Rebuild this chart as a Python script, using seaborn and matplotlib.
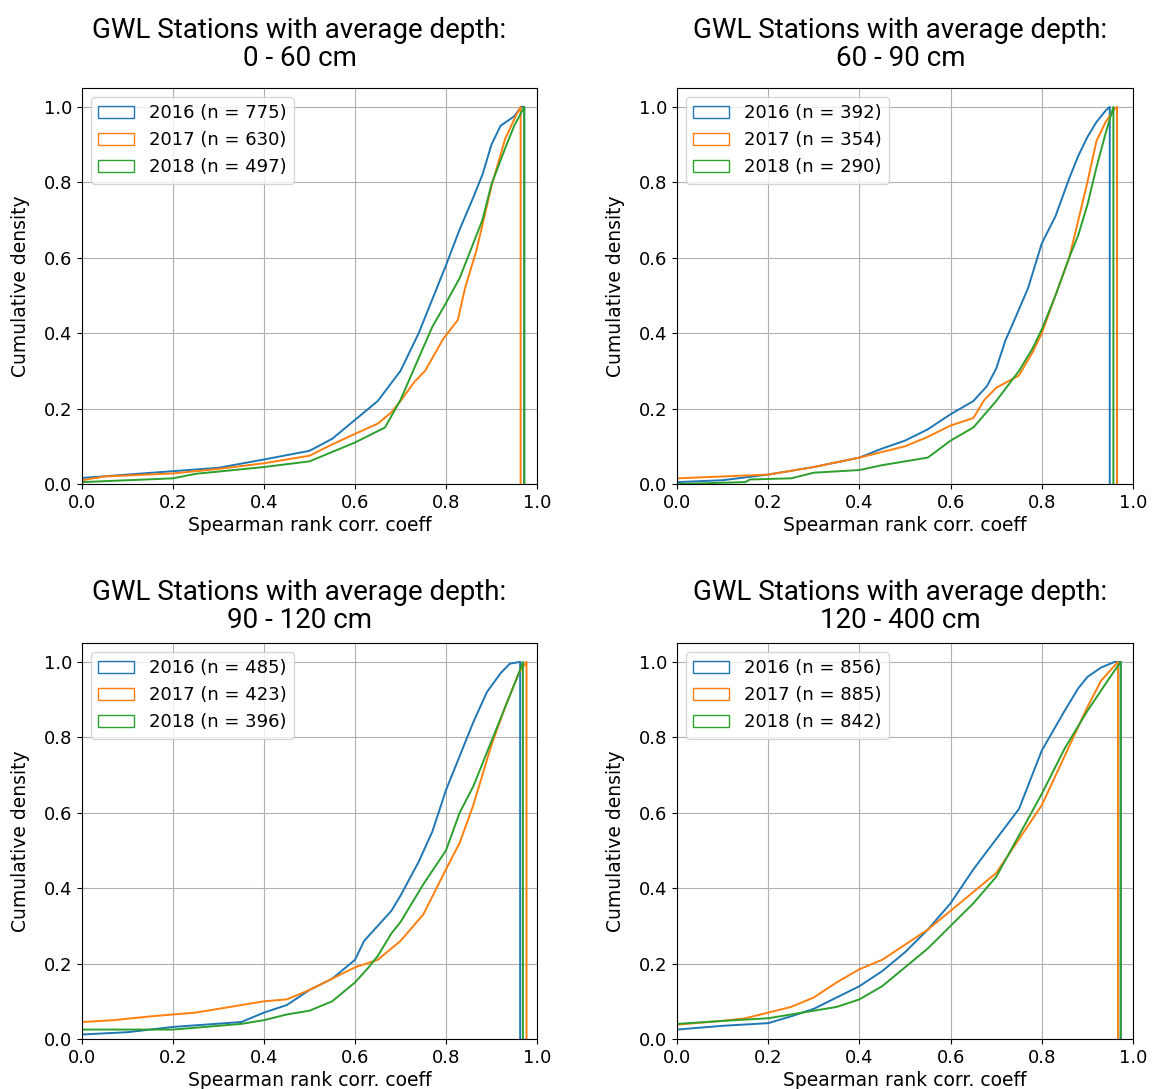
import numpy as np
import pandas as pd
import matplotlib
matplotlib.use('Agg')
import matplotlib.pyplot as plt
from matplotlib.patches import Patch
import seaborn as sns

# 패널 제목 (깊이 구간)
depth_labels = ['0 - 60 cm', '60 - 90 cm', '90 - 120 cm', '120 - 400 cm']
years = ['2016', '2017', '2018']
colors = ['#1f77b4', '#ff7f0e', '#2ca02c']

n_0_60 = [775, 630, 497]
n_60_90 = [392, 354, 290]
n_90_120 = [485, 423, 396]
n_120_400 = [856, 885, 842]

# 누적 곡선 (x = Spearman 계수, y = 누적 밀도), 그림에서 읽은 값
# 0 - 60 cm
x_a16 = [0.0, 0.2, 0.3, 0.4, 0.5, 0.55, 0.6, 0.65, 0.7, 0.74, 0.77, 0.8, 0.83, 0.86, 0.88, 0.9, 0.92, 0.95, 0.965, 0.972]
y_a16 = [0.016, 0.034, 0.043, 0.065, 0.088, 0.12, 0.17, 0.22, 0.30, 0.40, 0.49, 0.58, 0.675, 0.76, 0.82, 0.90, 0.95, 0.975, 1.0, 1.0]
x_a17 = [0.0, 0.05, 0.2, 0.3, 0.4, 0.5, 0.55, 0.6, 0.65, 0.68, 0.7, 0.73, 0.754, 0.794, 0.826, 0.842, 0.867, 0.9, 0.93, 0.955, 0.964]
y_a17 = [0.01, 0.02, 0.028, 0.04, 0.055, 0.075, 0.105, 0.133, 0.16, 0.19, 0.22, 0.27, 0.30, 0.385, 0.435, 0.52, 0.62, 0.79, 0.915, 0.98, 1.0]
x_a18 = [0.0, 0.2, 0.25, 0.4, 0.5, 0.6, 0.666, 0.7, 0.74, 0.77, 0.8, 0.83, 0.86, 0.88, 0.9, 0.93, 0.95, 0.972]
y_a18 = [0.005, 0.015, 0.027, 0.045, 0.06, 0.11, 0.15, 0.223, 0.334, 0.417, 0.48, 0.546, 0.638, 0.70, 0.795, 0.89, 0.95, 1.0]

# 60 - 90 cm
x_b16 = [0.0, 0.1, 0.2, 0.3, 0.4, 0.45, 0.5, 0.55, 0.6, 0.65, 0.68, 0.7, 0.72, 0.74, 0.77, 0.8, 0.83, 0.86, 0.88, 0.9, 0.92, 0.94, 0.949]
y_b16 = [0.005, 0.01, 0.025, 0.045, 0.07, 0.094, 0.115, 0.145, 0.185, 0.22, 0.26, 0.306, 0.38, 0.435, 0.52, 0.638, 0.71, 0.81, 0.87, 0.92, 0.96, 0.99, 1.0]
x_b17 = [0.0, 0.1, 0.2, 0.3, 0.4, 0.5, 0.55, 0.6, 0.65, 0.674, 0.7, 0.75, 0.78, 0.8, 0.83, 0.86, 0.879, 0.9, 0.92, 0.94, 0.96, 0.965]
y_b17 = [0.015, 0.02, 0.025, 0.045, 0.07, 0.10, 0.125, 0.155, 0.175, 0.223, 0.255, 0.288, 0.35, 0.40, 0.50, 0.60, 0.694, 0.80, 0.91, 0.96, 0.995, 1.0]
x_b18 = [0.0, 0.15, 0.16, 0.25, 0.3, 0.4, 0.45, 0.55, 0.6, 0.65, 0.7, 0.75, 0.78, 0.8, 0.83, 0.86, 0.88, 0.9, 0.92, 0.94, 0.957]
y_b18 = [0.0, 0.005, 0.012, 0.015, 0.03, 0.037, 0.05, 0.07, 0.115, 0.15, 0.22, 0.30, 0.36, 0.41, 0.50, 0.60, 0.66, 0.74, 0.84, 0.93, 1.0]

# 90 - 120 cm
x_c16 = [0.0, 0.1, 0.15, 0.2, 0.35, 0.4, 0.45, 0.5, 0.55, 0.6, 0.62, 0.65, 0.68, 0.7, 0.74, 0.77, 0.8, 0.83, 0.86, 0.89, 0.92, 0.94, 0.963]
y_c16 = [0.012, 0.018, 0.025, 0.032, 0.045, 0.07, 0.09, 0.13, 0.16, 0.21, 0.26, 0.30, 0.34, 0.38, 0.47, 0.55, 0.66, 0.75, 0.84, 0.92, 0.97, 0.995, 1.0]
x_c17 = [0.0, 0.07, 0.15, 0.25, 0.3, 0.35, 0.4, 0.45, 0.5, 0.55, 0.6, 0.65, 0.7, 0.75, 0.8, 0.83, 0.86, 0.88, 0.9, 0.93, 0.96, 0.977]
y_c17 = [0.045, 0.05, 0.06, 0.07, 0.08, 0.09, 0.10, 0.105, 0.13, 0.16, 0.19, 0.21, 0.26, 0.33, 0.45, 0.52, 0.62, 0.70, 0.78, 0.88, 0.97, 1.0]
x_c18 = [0.0, 0.2, 0.25, 0.35, 0.4, 0.45, 0.5, 0.55, 0.6, 0.63, 0.65, 0.68, 0.7, 0.75, 0.8, 0.83, 0.86, 0.88, 0.9, 0.93, 0.96, 0.969]
y_c18 = [0.025, 0.025, 0.03, 0.04, 0.05, 0.065, 0.075, 0.10, 0.15, 0.19, 0.22, 0.28, 0.31, 0.41, 0.50, 0.60, 0.67, 0.73, 0.79, 0.88, 0.97, 1.0]

# 120 - 400 cm
x_d16 = [0.0, 0.1, 0.2, 0.25, 0.3, 0.35, 0.4, 0.45, 0.5, 0.55, 0.6, 0.65, 0.7, 0.75, 0.8, 0.85, 0.88, 0.9, 0.93, 0.96, 0.973]
y_d16 = [0.025, 0.035, 0.042, 0.06, 0.08, 0.11, 0.14, 0.18, 0.23, 0.29, 0.36, 0.45, 0.53, 0.61, 0.765, 0.87, 0.93, 0.96, 0.985, 1.0, 1.0]
x_d17 = [0.0, 0.1, 0.15, 0.2, 0.25, 0.3, 0.35, 0.4, 0.45, 0.5, 0.55, 0.6, 0.65, 0.7, 0.75, 0.8, 0.85, 0.9, 0.93, 0.967]
y_d17 = [0.038, 0.048, 0.055, 0.07, 0.085, 0.11, 0.15, 0.185, 0.21, 0.25, 0.29, 0.34, 0.39, 0.44, 0.53, 0.62, 0.75, 0.88, 0.95, 1.0]
x_d18 = [0.0, 0.1, 0.2, 0.3, 0.35, 0.4, 0.45, 0.5, 0.55, 0.6, 0.65, 0.7, 0.75, 0.8, 0.85, 0.9, 0.95, 0.973]
y_d18 = [0.04, 0.048, 0.055, 0.075, 0.085, 0.105, 0.14, 0.19, 0.24, 0.30, 0.36, 0.43, 0.54, 0.65, 0.77, 0.87, 0.96, 1.0]

panels = [
    (depth_labels[0], n_0_60, [(x_a16, y_a16), (x_a17, y_a17), (x_a18, y_a18)]),
    (depth_labels[1], n_60_90, [(x_b16, y_b16), (x_b17, y_b17), (x_b18, y_b18)]),
    (depth_labels[2], n_90_120, [(x_c16, y_c16), (x_c17, y_c17), (x_c18, y_c18)]),
    (depth_labels[3], n_120_400, [(x_d16, y_d16), (x_d17, y_d17), (x_d18, y_d18)]),
]

# 축 위치 (figure 비율)
W, H = 1152, 1089
boxes = [(82, 88, 537, 484), (677, 88, 1133, 484),
         (82, 643, 537, 1039), (677, 643, 1133, 1039)]
title_pads = [16, 16, 11, 11]
title_x = [0.478, 0.49, 0.478, 0.49]

fig = plt.figure(figsize=(W / 100, H / 100), dpi=100)

for (label, ns, curves), (l, t, r, b), pad, tx in zip(panels, boxes, title_pads, title_x):
    ax = fig.add_axes([l / W, 1 - b / H, (r - l) / W, (b - t) / H])
    ax.grid(True, color='#b0b0b0', lw=0.8, zorder=0)
    ax.set_axisbelow(True)
    for (xs, ys), c in zip(curves, colors):
        # step 히스토그램처럼 마지막에 0으로 떨어지는 선
        df = pd.DataFrame({'x': [-0.05] + xs + [xs[-1]],
                           'y': [ys[0]] + ys + [0.0]})
        sns.lineplot(data=df, x='x', y='y', ax=ax, color=c, lw=1.4,
                     estimator=None, sort=False)
    ax.set_xlim(0, 1)
    ax.set_ylim(0, 1.05)
    ax.set_xticks([0, 0.2, 0.4, 0.6, 0.8, 1.0])
    ax.set_yticks([0, 0.2, 0.4, 0.6, 0.8, 1.0])
    ax.tick_params(labelsize=13)
    ax.set_xlabel('Spearman rank corr. coeff', fontsize=13.5, labelpad=3)
    ax.set_ylabel('Cumulative density', fontsize=13.5, labelpad=10)
    ax.set_title('GWL Stations with average depth:\n' + label, x=tx,
                 fontfamily='Roboto', fontsize=20, pad=pad, linespacing=1.05)
    handles = [Patch(facecolor='none', edgecolor=c) for c in colors]
    labels = [f'{y} (n = {n})' for y, n in zip(years, ns)]
    ax.legend(handles, labels, loc='upper left', fontsize=13)

plt.savefig('out.png', dpi=100)
